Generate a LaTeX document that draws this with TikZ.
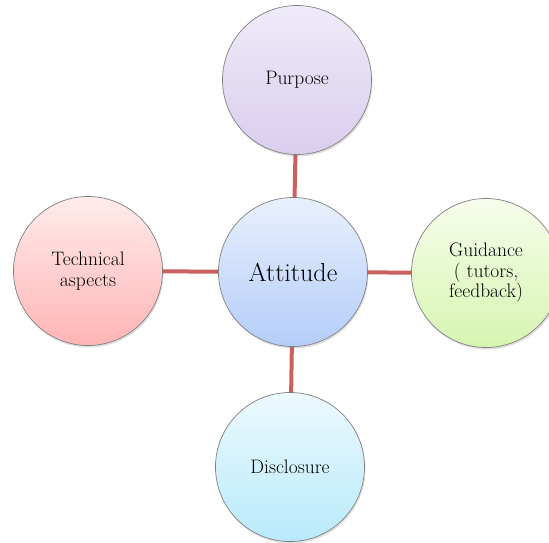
\documentclass[tikz,border=0pt]{standalone}
\usetikzlibrary{shadows,backgrounds}
\definecolor{edge}{RGB}{128,128,128}
\definecolor{link}{RGB}{204,96,92}
\definecolor{purT}{RGB}{239,235,249}
\definecolor{purB}{RGB}{218,205,238}
\definecolor{attT}{RGB}{232,240,253}
\definecolor{attB}{RGB}{180,205,249}
\definecolor{guiT}{RGB}{247,253,236}
\definecolor{guiB}{RGB}{214,245,176}
\definecolor{tecT}{RGB}{255,236,236}
\definecolor{tecB}{RGB}{255,180,180}
\definecolor{disT}{RGB}{236,249,254}
\definecolor{disB}{RGB}{184,234,251}
\tikzset{
  bubble/.style={circle, draw=edge, line width=0.7pt, minimum size=149pt, inner sep=0pt,
    align=center, font=\fontsize{19.5}{20.5}\selectfont,
    drop shadow={opacity=0.25, shadow xshift=1pt, shadow yshift=-2pt}},
  linkline/.style={draw=link, line width=4pt}
}
\begin{document}
\begin{tikzpicture}[x=1pt,y=-1pt]
\useasboundingbox (0,0) rectangle (549,542);
\clip (0,0) rectangle (549,542);
\node[bubble, top color=attT, bottom color=attB, font=\fontsize{26}{28}\selectfont] (att) at (293,272) {Attitude};
\node[bubble, top color=purT, bottom color=purB] (purp) at (297,80) {Purpose};
\node[bubble, top color=tecT, bottom color=tecB] (tech) at (88,271) {Technical\\aspects};
\node[bubble, top color=guiT, bottom color=guiB] (guid) at (486,273) {Guidance\\( tutors,\\feedback)};
\node[bubble, top color=disT, bottom color=disB] (disc) at (290,467) {Disclosure};
\begin{scope}[on background layer]
\draw[linkline] (att) -- (purp);
\draw[linkline] (att) -- (tech);
\draw[linkline] (att) -- (guid);
\draw[linkline] (att) -- (disc);
\end{scope}
\end{tikzpicture}
\end{document}
